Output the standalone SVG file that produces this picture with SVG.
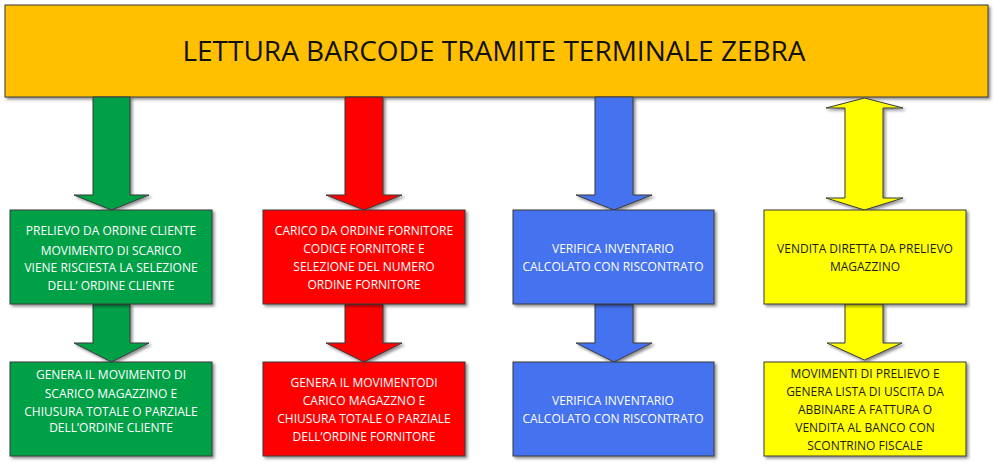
<svg xmlns="http://www.w3.org/2000/svg" width="994" height="465" viewBox="0 0 994 465">
<defs>
<filter id="sh" x="-5%" y="-5%" width="115%" height="120%"><feDropShadow dx="2" dy="2" stdDeviation="1.5" flood-color="#000" flood-opacity="0.45"/></filter>
<style>
.b{stroke:#3a3a3a;stroke-width:1;filter:url(#sh)}
.t{font-family:"Open Sans","Liberation Sans",sans-serif;font-size:12px;text-anchor:middle}
.w{fill:#fff}.k{fill:#222}
.g{fill:#00a046}.r{fill:#ff0000}.u{fill:#4472ef}.y{fill:#ffff00}
</style>
</defs>
<g id="header"><rect class="b" x="5" y="5" width="983" height="92" fill="#ffc000"/>
<text x="494" y="61" font-family="Open Sans,Liberation Sans,sans-serif" font-size="28" text-anchor="middle" fill="#111">LETTURA BARCODE TRAMITE TERMINALE ZEBRA</text></g>
<g id="connectors">
<polygon class="b g" points="93,97 130,97 130,195 149,195 111.5,210 74,195 93,195"/>
<polygon class="b g" points="93,304 130,304 130,343 149,343 111.5,362 74,343 93,343"/>
<polygon class="b r" points="345,97 383,97 383,195 402,195 364,210 326,195 345,195"/>
<polygon class="b r" points="345,304 383,304 383,343 402,343 364,362 326,343 345,343"/>
<polygon class="b u" points="595,97 633,97 633,195 652,195 614,210 576,195 595,195"/>
<polygon class="b u" points="595,304 633,304 633,343 652,343 614,362 576,343 595,343"/>
<polygon class="b y" points="864.5,98 903,108 883,108 883,198 903,198 864.5,210 826,198 845,198 845,108 826,108"/>
<polygon class="b y" points="845,304 883,304 883,343 902,343 864.5,360 827,343 845,343"/>
</g>
<g id="n1"><rect class="b g" x="10" y="210" width="202" height="94"/>
<text class="t w" x="111" y="235">PRELIEVO DA ORDINE CLIENTE</text><text class="t w" x="111" y="255">MOVIMENTO DI SCARICO</text><text class="t w" x="111" y="272">VIENE RISCIESTA LA SELEZIONE</text><text class="t w" x="111" y="290">DELL’ ORDINE CLIENTE</text></g>
<g id="n2"><rect class="b g" x="10" y="362" width="202" height="94"/>
<text class="t w" x="111" y="379">GENERA IL MOVIMENTO DI</text><text class="t w" x="111" y="398">SCARICO MAGAZZINO E</text><text class="t w" x="111" y="416">CHIUSURA TOTALE O PARZIALE</text><text class="t w" x="111" y="432">DELL’ORDINE CLIENTE</text></g>
<g id="n3"><rect class="b r" x="263" y="210" width="202" height="94"/>
<text class="t w" x="364" y="235">CARICO DA ORDINE FORNITORE</text><text class="t w" x="364" y="253">CODICE FORNITORE E</text><text class="t w" x="364" y="271">SELEZIONE DEL NUMERO</text><text class="t w" x="364" y="289">ORDINE FORNITORE</text></g>
<g id="n4"><rect class="b r" x="263" y="362" width="202" height="94"/>
<text class="t w" x="364" y="387">GENERA IL MOVIMENTODI</text><text class="t w" x="364" y="405">CARICO MAGAZZNO E</text><text class="t w" x="364" y="423">CHIUSURA TOTALE O PARZIALE</text><text class="t w" x="364" y="441">DELL’ORDINE FORNITORE</text></g>
<g id="n5"><rect class="b u" x="513" y="210" width="201" height="94"/>
<text class="t w" x="613" y="253">VERIFICA INVENTARIO</text><text class="t w" x="613" y="271">CALCOLATO CON RISCONTRATO</text></g>
<g id="n6"><rect class="b u" x="513" y="362" width="201" height="94"/>
<text class="t w" x="613" y="405">VERIFICA INVENTARIO</text><text class="t w" x="613" y="423">CALCOLATO CON RISCONTRATO</text></g>
<g id="n7"><rect class="b y" x="764" y="210" width="202" height="94"/>
<text class="t k" x="865" y="253">VENDITA DIRETTA DA PRELIEVO</text><text class="t k" x="865" y="271">MAGAZZINO</text></g>
<g id="n8"><rect class="b y" x="764" y="362" width="202" height="94"/>
<text class="t k" x="865" y="378">MOVIMENTI DI PRELIEVO E</text><text class="t k" x="865" y="396">GENERA LISTA DI USCITA DA</text><text class="t k" x="865" y="414">ABBINARE A FATTURA O</text><text class="t k" x="865" y="432">VENDITA AL BANCO CON</text><text class="t k" x="865" y="450">SCONTRINO FISCALE</text></g>
</svg>
